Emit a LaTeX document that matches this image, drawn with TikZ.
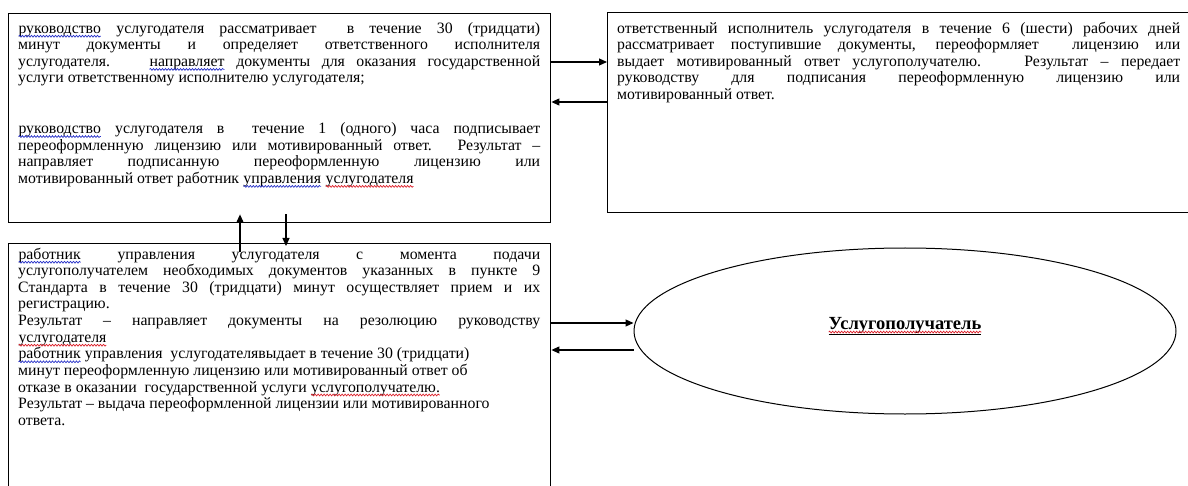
\documentclass[tikz,border=0pt]{standalone}
\usepackage{fontspec}
\setmainfont{Liberation Serif}
\usetikzlibrary{arrows.meta,shapes.geometric,decorations.pathmorphing,calc}
\definecolor{spellblue}{RGB}{40,50,200}
\definecolor{spellred}{RGB}{220,30,40}
\tikzset{
  wavestyle/.style={line width=0.7pt, decorate, decoration={snake, amplitude=0.9pt, segment length=3pt}},
  wordnode/.style={shape=rectangle, draw=none, fill=none, minimum width=0pt, minimum height=0pt,
                   inner sep=0pt, outer sep=0pt, text width={}, anchor=base}
}
\newcommand\wavy[2]{\tikz[baseline=(w.base)]{\node[wordnode] (w) {#2};
  \draw[#1, wavestyle] ([yshift=-3pt]w.base west) -- ([yshift=-3pt]w.base east);}}
\newcommand\bwave[1]{\wavy{spellblue}{#1}}
\newcommand\rwave[1]{\wavy{spellred}{#1}}
\begin{document}
\begin{tikzpicture}[x=1pt,y=-1pt,
  frame/.style={draw, line width=1.4pt, rectangle, anchor=north west, inner sep=0pt},
  txt/.style={anchor=north west, inner sep=0pt, align=justify, font=\fontsize{15.8}{16.6}\selectfont},
  arr/.style={-{Triangle[length=8pt,width=7pt]}, line width=1.1pt}]
\useasboundingbox (0,0) rectangle (1188,486);
% frames
\node[frame, minimum width=542pt, minimum height=209pt] (A) at (8,13) {};
\node[frame, minimum width=582pt, minimum height=200pt] (B) at (607,12) {};
\node[frame, minimum width=542pt, minimum height=262pt] (C) at (8,243) {};
\node[draw, ellipse, line width=1pt, minimum width=542pt, minimum height=166pt, inner sep=0pt] (D) at (905,331) {};
\node[inner sep=0pt, font=\fontsize{18.5}{20}\selectfont\bfseries] (Dt) at (905,326) {\rwave{\underline{Услугополучатель}}};
% texts
\node[txt, text width=522pt] (At) at (18,20) {\rule{0pt}{13pt}\bwave{руководство} услугодателя рассматривает \ в течение 30 (тридцати)\linebreak
минут документы и определяет ответственного исполнителя\linebreak
услугодателя. \ \bwave{направляет} документы для оказания государственной\linebreak
услуги ответственному исполнителю услугодателя;\par\vskip 34pt
\bwave{руководство} услугодателя в \ течение 1 (одного) часа подписывает\linebreak
переоформленную лицензию или мотивированный ответ. Результат –\linebreak
направляет подписанную переоформленную лицензию или\linebreak
мотивированный ответ работник \bwave{управления} \rwave{услугодателя}};
\node[txt, text width=563pt] (Bt) at (617,20) {\rule{0pt}{13pt}ответственный исполнитель услугодателя в течение 6 (шести) рабочих дней\linebreak
рассматривает поступившие документы, переоформляет \ лицензию или\linebreak
выдает мотивированный ответ услугополучателю. \ Результат – передает\linebreak
руководству для подписания переоформленную лицензию или\linebreak
мотивированный ответ.};
\node[txt, text width=522pt] (Ct) at (18,246) {\rule{0pt}{13pt}\bwave{работник} управления услугодателя с момента подачи\linebreak
услугополучателем необходимых документов указанных в пункте 9\linebreak
Стандарта в течение 30 (тридцати) минут осуществляет прием и их\linebreak
регистрацию.\par
Результат – направляет документы на резолюцию руководству\linebreak
\rwave{услугодателя}\par
\bwave{работник} управления \ услугодателявыдает в течение 30 (тридцати)\\
минут переоформленную лицензию или мотивированный ответ об\\
отказе в оказании \ государственной услуги \rwave{услугополучателю.}\\
Результат – выдача переоформленной лицензии или мотивированного\\
ответа.};
% helper coordinates
\coordinate (y1) at (0,62);
\coordinate (y2) at (0,102);
\coordinate (x1) at (240,0);
\coordinate (x2) at (286,0);
\coordinate (y3) at (0,323);
\coordinate (y4) at (0,350);
\coordinate (u0) at ($(C.north -| x1)+(0,9)$);
\coordinate (u1) at ($(A.south -| x1)+(0,-9)$);
\coordinate (d0) at ($(A.south -| x2)+(0,-9)$);
\coordinate (d1) at ($(C.north -| x2)+(0,3)$);
% connectors
\draw[arr] (A.east |- y1) -- (B.west |- y1);
\draw[arr] (B.west |- y2) -- (A.east |- y2);
\draw[arr] (u0) -- (u1);
\draw[arr] (d0) -- (d1);
\draw[arr] (C.east |- y3) -- (D.west |- y3);
\draw[arr] (D.west |- y4) -- (C.east |- y4);
\end{tikzpicture}
\end{document}
